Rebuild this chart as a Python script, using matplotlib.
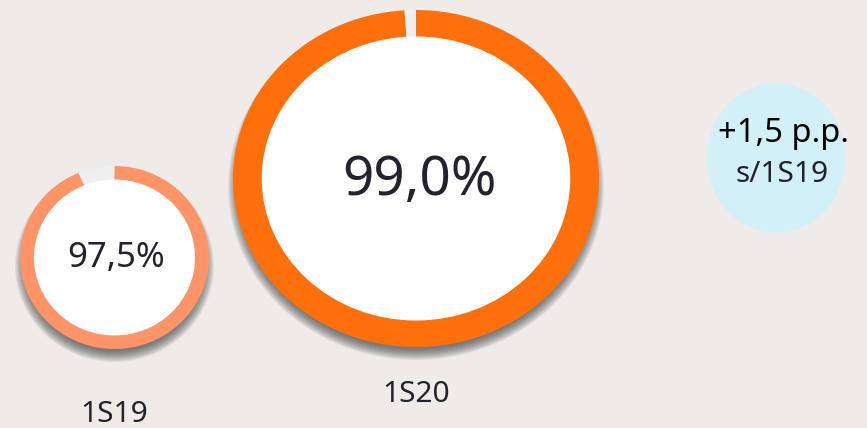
import numpy as np
import matplotlib.pyplot as plt
from matplotlib.patches import Ellipse

# data
periods = ['1S19', '1S20']
share_labels = ['97,5%', '99,0%']
ring_fill = [93.8, 99.0]   # part of each ring that is drawn filled
delta_label = '+1,5 p.p.'
delta_base = 's/1S19'

W, H = 867, 428
plt.rcParams['font.family'] = ['Noto Sans', 'DejaVu Sans']
TEXT = '#23232d'

fig = plt.figure(figsize=(W / 100, H / 100), dpi=100)
fig.patch.set_facecolor('#eeebe8')

# background layer in pixel coordinates
bg = fig.add_axes([0, 0, 1, 1])
bg.set_xlim(0, W)
bg.set_ylim(H, 0)
bg.axis('off')

# donut boxes (left, top, right, bottom) in px
boxes = [(20, 166, 209, 349), (233, 10, 599, 347)]
ring_colors = ['#ff9468', '#ff6f0b']
hole = [0.852, 0.843]
value_size = [25, 39.5]
period_y = [414, 395]
shadow_off = 8

for i in range(len(periods)):
    l, t, r, b = boxes[i]
    ax = fig.add_axes([l / W, 1 - b / H, (r - l) / W, (b - t) / H])
    ax.pie([ring_fill[i], 100 - ring_fill[i]],
           colors=[ring_colors[i], '#efefef'],
           startangle=90, counterclock=False, radius=1,
           wedgeprops=dict(linewidth=0, zorder=2))
    ax.set_aspect('auto')
    ax.set_xlim(-1, 1)
    ax.set_ylim(-1, 1)

    rx = (r - l) / 2
    ry = (b - t) / 2
    # soft drop shadow under the ring
    for g in np.linspace(-6, 5, 12):
        sh = Ellipse((0, -shadow_off / ry), 2 * (1 + g / rx), 2 * (1 + g / ry),
                     color='#3a3a3a', alpha=0.08, lw=0, zorder=0, clip_on=False)
        ax.add_patch(sh)

    ax.add_patch(Ellipse((0, 0), 2 * hole[i], 2 * hole[i], color='white', lw=0, zorder=3))
    ax.text(0.02, -0.01, share_labels[i], ha='center', va='center',
            fontsize=value_size[i], color=TEXT, zorder=4)

    bg.text((l + r) / 2, period_y[i], periods[i], ha='center', va='center',
            fontsize=21.5, color=TEXT)

# change vs previous period
bg.add_patch(Ellipse((776, 158), 138, 149, color='#d2f0f8', lw=0))
bg.text(783, 133, delta_label, ha='center', va='center', fontsize=23.5, color='black')
bg.text(782, 174, delta_base, ha='center', va='center', fontsize=21.5, color=TEXT)

fig.savefig('out.png', dpi=100, facecolor=fig.get_facecolor())
